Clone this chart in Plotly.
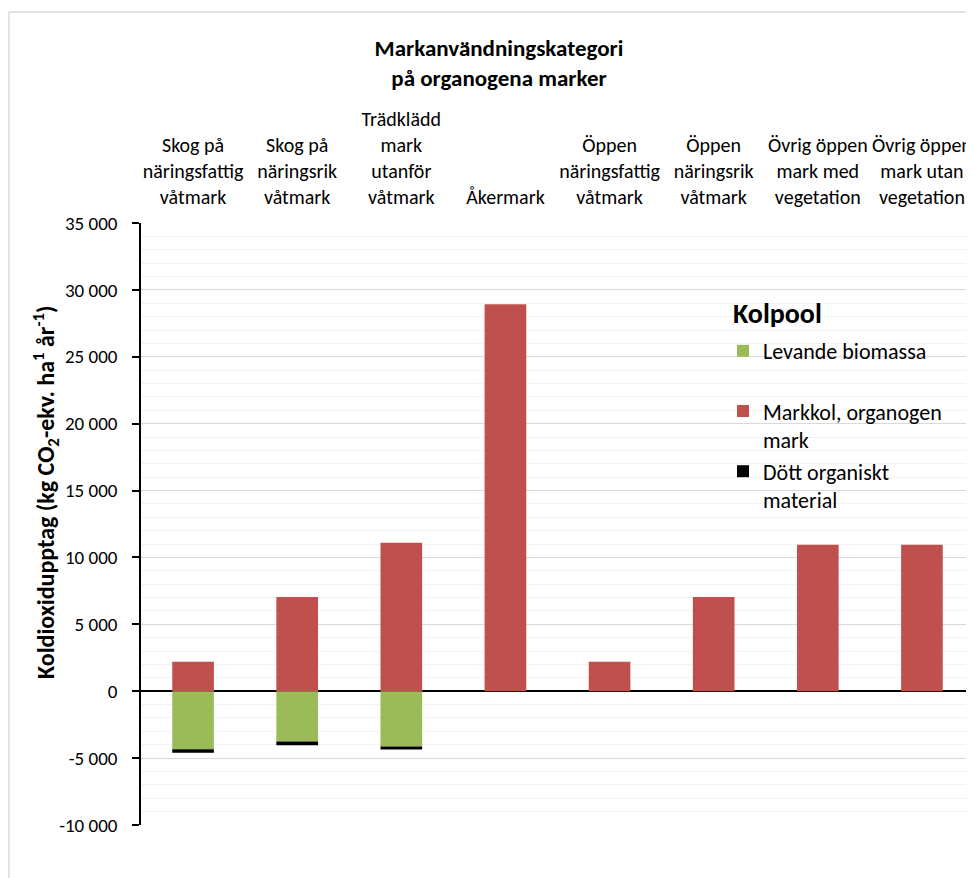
import plotly.graph_objects as go

categories = [
    "Skog på<br>näringsfattig<br>våtmark",
    "Skog på<br>näringsrik<br>våtmark",
    "Trädklädd<br>mark<br>utanför<br>våtmark",
    "Åkermark",
    "Öppen<br>näringsfattig<br>våtmark",
    "Öppen<br>näringsrik<br>våtmark",
    "Övrig öppen<br>mark med<br>vegetation",
    "Övrig öppen<br>mark utan<br>vegetation",
]
levande_biomassa = [-4330, -3750, -4130, 0, 0, 0, 0, 0]
markkol = [2200, 7050, 11100, 28930, 2200, 7050, 10950, 10950]
dott_organiskt = [-270, -280, -230, 0, 0, 0, 0, 0]

y_ticks = [-10000, -5000, 0, 5000, 10000, 15000, 20000, 25000, 30000, 35000]
y_ticktext = ["-10 000", "-5 000", "0", "5 000", "10 000", "15 000", "20 000", "25 000", "30 000", "35 000"]

FONT = "Carlito, Lato, 'Liberation Sans', sans-serif"
x_idx = list(range(len(categories)))

fig = go.Figure()
fig.add_trace(go.Bar(x=x_idx, y=levande_biomassa, name="Levande biomassa<br> ", legendgroup="a",
                     marker=dict(color="#9BBB59", line=dict(width=0))))
fig.add_trace(go.Bar(x=x_idx, y=markkol, name="Markkol, organogen<br>mark", legendgroup="b",
                     marker=dict(color="#C0504D", line=dict(width=0))))
fig.add_trace(go.Bar(x=x_idx, y=dott_organiskt, name="Dött organiskt<br>material", legendgroup="c",
                     marker=dict(color="#000000", line=dict(width=0))))

OFF = 8  # page body margin
W, H = 974 - OFF, 878 - OFF
L = 141 - OFF
T = 223 - OFF
R = 0
B = H - (825 - OFF)
pw = W - L - R
ph = H - T - B

def px_x(x):
    return (x - OFF - L) / pw

def px_y(y):
    return (H - B - (y - OFF)) / ph

fig.update_layout(
    width=W, height=H,
    margin=dict(l=L, r=R, t=T, b=B),
    barmode="relative",
    bargap=0.6,
    paper_bgcolor="white",
    plot_bgcolor="white",
    font=dict(family=FONT, size=19, color="#000000"),
    title=dict(text="<b>Markanvändningskategori<br>på organogena marker</b>",
               x=(499 - OFF) / W, xanchor="center", y=1 - (56 - OFF) / H, yanchor="top",
               font=dict(size=23, family=FONT)),
    xaxis=dict(
        side="top", tickmode="array", tickvals=x_idx, ticktext=categories,
        range=[-0.5, len(categories) - 0.5],
        showline=False, showgrid=False, ticks="", zeroline=False,
        tickfont=dict(size=20, family=FONT), ticklabelstandoff=14,
    ),
    yaxis=dict(
        range=[-10000, 35000], tickmode="array", tickvals=y_ticks, ticktext=y_ticktext,
        showline=True, linecolor="#000000", linewidth=1.5,
        ticks="outside", ticklen=7, tickcolor="#000000", tickwidth=1.5,
        showgrid=True, gridcolor="#D9D9D9", gridwidth=1,
        minor=dict(dtick=1000, showgrid=True, gridcolor="#F2F2F2", gridwidth=1, ticks=""),
        zeroline=True, zerolinecolor="#000000", zerolinewidth=1.5,
        tickfont=dict(size=19, family=FONT), ticklabelstandoff=11,
    ),
    legend=dict(
        x=px_x(723), xanchor="left", y=px_y(330), yanchor="top",
        bgcolor="rgba(0,0,0,0)", borderwidth=0,
        font=dict(size=22, family=FONT),
        traceorder="grouped", valign="top", tracegroupgap=0,
        itemwidth=30,
    ),
    annotations=[
        dict(text="<b>Koldioxidupptag (kg CO<sub>2</sub>-ekv. ha<sup>1</sup> år<sup>-1</sup>)</b>",
             xref="paper", yref="paper", x=px_x(46), y=px_y(492),
             xanchor="center", yanchor="middle", textangle=-90, showarrow=False,
             font=dict(size=24, family=FONT)),
        dict(text="<b>Kolpool</b>",
             xref="paper", yref="paper", x=px_x(731), y=px_y(313),
             xanchor="left", yanchor="middle", showarrow=False,
             font=dict(size=28, family=FONT)),
    ],
    shapes=[
        dict(type="line", xref="paper", yref="paper", x0=px_x(9), x1=px_x(9),
             y0=px_y(900), y1=px_y(12), line=dict(color="#D9D9D9", width=1.5)),
        dict(type="line", xref="paper", yref="paper", x0=px_x(9), x1=px_x(990),
             y0=px_y(12), y1=px_y(12), line=dict(color="#D9D9D9", width=1.5)),
        dict(type="rect", xref="paper", yref="paper", x0=px_x(723), x1=px_x(963),
             y0=px_y(513), y1=px_y(337), layer="between",
             fillcolor="white", line=dict(width=0)),
        dict(type="rect", xref="paper", yref="paper", x0=px_x(723), x1=px_x(828),
             y0=px_y(337), y1=px_y(300), layer="between",
             fillcolor="white", line=dict(width=0)),
    ],
    showlegend=True,
)

fig.write_html("out.html")
